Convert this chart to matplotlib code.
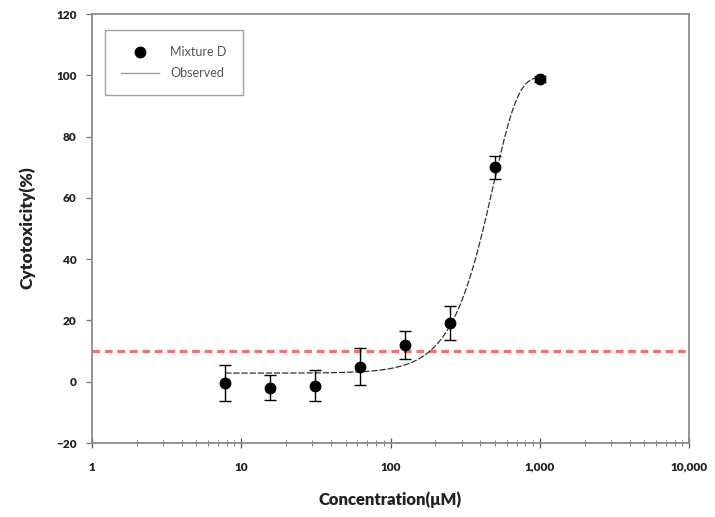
import numpy as np
import matplotlib
matplotlib.use("Agg")
import matplotlib.pyplot as plt
from matplotlib.lines import Line2D
from matplotlib.ticker import FuncFormatter, LogLocator, NullFormatter

# Data
concentration = [7.8125, 15.625, 31.25, 62.5, 125, 250, 500, 1000]
cytotoxicity = [-0.4, -1.9, -1.3, 4.9, 12.0, 19.2, 70.0, 98.8]
error = [6.0, 4.0, 5.0, 6.0, 4.5, 5.6, 3.8, 1.0]

# Fitted (Weibull-type) curve parameters
fit_bottom = 2.8
fit_top = 99.5
fit_scale = 488.0
fit_shape = 2.62
fit_range = (7.8125, 1000)

threshold = 10

x_ticks = [1, 10, 100, 1000, 10000]
y_ticks = [-20, 0, 20, 40, 60, 80, 100, 120]

plt.rcParams['font.family'] = ['Lato', 'DejaVu Sans']

fig = plt.figure(figsize=(7.15, 5.17), dpi=100)
ax = fig.add_axes([92/715, 74/517, (689-92)/715, (443-14)/517])

xs = np.logspace(np.log10(fit_range[0]), np.log10(fit_range[1]), 400)
ys = fit_bottom + (fit_top - fit_bottom) * (1 - np.exp(-(xs / fit_scale) ** fit_shape))
ax.plot(xs, ys, color='#333333', lw=0.9, ls=(0, (5, 1.5)), zorder=2)

ax.axhline(threshold, color='#f07272', lw=2.3, ls=(0, (2.4, 1.5)), zorder=1)

ax.errorbar(concentration, cytotoxicity, yerr=error, fmt='o', color='black',
            ms=7.5, capsize=4.5, elinewidth=1.0, capthick=1.0, zorder=3)

ax.set_xscale('log')
ax.set_xlim(1, 10000)
ax.set_ylim(-20, 120)
ax.set_xticks(x_ticks)
ax.xaxis.set_major_formatter(FuncFormatter(lambda v, p: f"{int(round(v)):,}"))
ax.xaxis.set_minor_locator(LogLocator(base=10, subs=np.arange(2, 10)))
ax.xaxis.set_minor_formatter(NullFormatter())
ax.set_yticks(y_ticks)

for s in ax.spines.values():
    s.set_color('#8a8a8a')
    s.set_linewidth(1.3)

ax.tick_params(axis='x', which='major', direction='inout', length=7, width=0.9,
               color='#555555', labelsize=8.5, pad=10)
ax.tick_params(axis='x', which='minor', direction='inout', length=4, width=0.7,
               color='#777777')
ax.tick_params(axis='y', which='major', direction='out', length=4, width=0.9,
               color='#777777', labelsize=8.5, pad=7)
for lbl in ax.get_xticklabels() + ax.get_yticklabels():
    lbl.set_fontweight('heavy')
    lbl.set_color('#222222')

ax.set_xlabel('Concentration(μM)', fontsize=12, fontweight='heavy', color='#222222',
              va='center', ha='center')
ax.xaxis.set_label_coords(0.5, (443 - 500) / 429)
ax.set_ylabel('Cytotoxicity(%)', fontsize=12.5, fontweight='heavy', color='#222222',
              va='center', ha='center')
ax.yaxis.set_label_coords(-(92 - 27) / 597, (443 - 228) / 429)

handles = [
    Line2D([], [], marker='o', ls='none', color='black', ms=7.5),
    Line2D([], [], color='#999999', lw=1.0),
]
leg = ax.legend(handles, ['Mixture D', 'Observed'],
                loc='upper left', bbox_to_anchor=(13/597, 1 - 16/429),
                fontsize=9, frameon=True, fancybox=False, borderpad=1.3,
                handlelength=3.0, labelspacing=0.7, handletextpad=0.9,
                borderaxespad=0)
leg.get_frame().set_edgecolor('#8a8a8a')
leg.get_frame().set_linewidth(1.0)
for t in leg.get_texts():
    t.set_color('#555555')

fig.savefig('out.png', dpi=100)
